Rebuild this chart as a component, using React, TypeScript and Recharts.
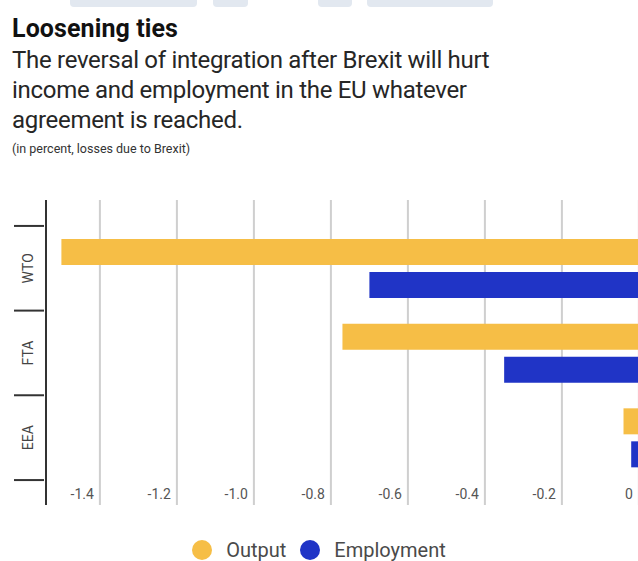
import { BarChart, Bar, XAxis, YAxis, CartesianGrid, Legend } from 'recharts'

const scenarios = ['WTO', 'FTA', 'EEA']
const output = [-1.5, -0.77, -0.04]
const employment = [-0.7, -0.35, -0.02]
const xTicks = [-1.4, -1.2, -1.0, -0.8, -0.6, -0.4, -0.2, 0]

const series = [
  { key: 'output', name: 'Output', color: '#F6BE46' },
  { key: 'employment', name: 'Employment', color: '#2034C6' },
]

const data = scenarios.map((s, i) => ({
  scenario: s,
  output: output[i],
  employment: employment[i],
}))

const FONT = 'Roboto, "Noto Sans", sans-serif'
const HALF_BAND = 42.4

const XTick = (props: any) => {
  const { x, y, payload } = props
  const v = payload.value
  const label = v === 0 ? '0' : v.toFixed(1)
  return (
    <text x={x - 6} y={y - 6} textAnchor="end" fontSize={14} fill="#555" fontFamily={FONT}>
      {label}
    </text>
  )
}

const YTick = (props: any) => {
  const { x, y, payload, index } = props
  const axisX = x + 6
  return (
    <g>
      <line x1={14} x2={axisX} y1={y - HALF_BAND} y2={y - HALF_BAND} stroke="#333" strokeWidth={2} />
      {index === scenarios.length - 1 && (
        <line x1={14} x2={axisX} y1={y + HALF_BAND} y2={y + HALF_BAND} stroke="#333" strokeWidth={2} />
      )}
      <text
        x={28}
        y={y}
        transform={`rotate(-90 28 ${y})`}
        textAnchor="middle"
        dominantBaseline="central"
        fontSize={14}
        fill="#444"
        fontFamily={FONT}
      >
        {payload.value}
      </text>
    </g>
  )
}

const LegendContent = () => (
  <div style={{ display: 'flex', justifyContent: 'center', alignItems: 'center', paddingLeft: 14 }}>
    {series.map((s) => (
      <div key={s.key} style={{ display: 'flex', alignItems: 'center', marginRight: 14 }}>
        <span
          style={{
            width: 20,
            height: 20,
            borderRadius: 10,
            background: s.color,
            display: 'inline-block',
            marginRight: 14,
          }}
        />
        <span style={{ fontFamily: FONT, fontSize: 20, lineHeight: '20px', color: '#4a4a4a' }}>{s.name}</span>
      </div>
    ))}
  </div>
)

const tabs = [
  [70, 127],
  [213, 35],
  [318, 34],
  [367, 126],
]

export default function App() {
  return (
    <div
      style={{
        position: 'fixed',
        left: 0,
        top: 0,
        width: 638,
        height: 561,
        overflow: 'hidden',
        background: '#fff',
        fontFamily: FONT,
      }}
    >
      {tabs.map(([l, w], i) => (
        <div
          key={i}
          style={{
            position: 'absolute',
            left: l,
            top: 0,
            width: w,
            height: 7,
            background: '#e2e8f0',
            borderRadius: '0 0 4px 4px',
          }}
        />
      ))}
      <div
        style={{
          position: 'absolute',
          left: 12,
          top: 16,
          fontSize: 25,
          lineHeight: '25px',
          fontWeight: 700,
          letterSpacing: 0.1,
          color: '#111',
          whiteSpace: 'nowrap',
        }}
      >
        Loosening ties
      </div>
      <div
        style={{
          position: 'absolute',
          left: 12,
          top: 45,
          fontSize: 24,
          lineHeight: '30px',
          letterSpacing: -0.3,
          color: '#262626',
          width: 600,
        }}
      >
        The reversal of integration after Brexit will hurt
        <br />
        income and employment in the EU whatever
        <br />
        agreement is reached.
      </div>
      <div
        style={{
          position: 'absolute',
          left: 12,
          top: 142,
          fontSize: 12.5,
          lineHeight: '13px',
          color: '#333',
          whiteSpace: 'nowrap',
        }}
      >
        (in percent, losses due to Brexit)
      </div>
      <div style={{ position: 'absolute', left: 0, top: 185 }}>
        <BarChart
          width={662}
          height={376}
          data={data}
          layout="vertical"
          margin={{ top: 15, right: 0, bottom: 55, left: 0 }}
          barSize={26}
          barGap={7}
        >
          <CartesianGrid horizontal={false} stroke="#cfcfcf" strokeWidth={2} />
          <XAxis
            type="number"
            domain={[-1.54, 0.06]}
            ticks={xTicks}
            height={1}
            axisLine={false}
            tickLine={false}
            tickSize={0}
            tickMargin={0}
            tick={<XTick />}
            interval={0}
          />
          <YAxis
            type="category"
            dataKey="scenario"
            width={46}
            padding={{ top: 26, bottom: 25 }}
            axisLine={{ stroke: '#333', strokeWidth: 2 }}
            tickLine={false}
            tick={<YTick />}
          />
          <Legend
            verticalAlign="middle"
            align="center"
            wrapperStyle={{ top: 355, left: 0, width: 638 }}
            content={<LegendContent />}
          />
          {series.map((s) => (
            <Bar key={s.key} dataKey={s.key} name={s.name} fill={s.color} isAnimationActive={false} />
          ))}
        </BarChart>
      </div>
    </div>
  )
}
